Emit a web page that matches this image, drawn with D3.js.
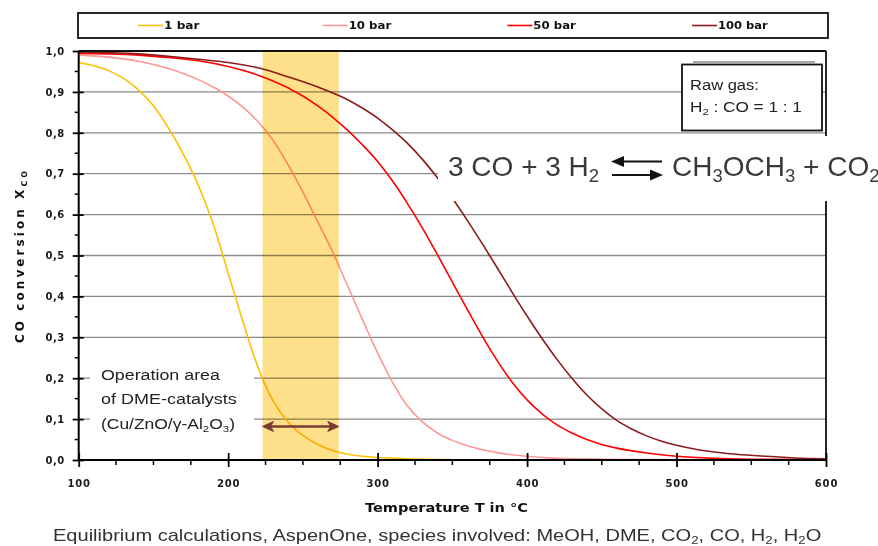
<!DOCTYPE html>
<html><head><meta charset="utf-8">
<script src="https://cdn.jsdelivr.net/npm/d3@7"></script>
<style>body{margin:0;background:#fff}svg{display:block}</style>
</head><body>
<svg id="c" width="878" height="546"></svg>
<script>
// ---------- data ----------
const seriesNames  = ["1 bar", "10 bar", "50 bar", "100 bar"];
const seriesColors = ["#FFC000", "#FF9797", "#FF0000", "#8C1C1C"];

const temps1bar = [100,110,120,130,140,150,160,170,180,190,200,210,220,230,240,250,260,270,280,290,300,320,350];
const conv1bar  = [0.972,0.964,0.952,0.933,0.905,0.866,0.812,0.748,0.672,0.577,0.457,0.337,0.226,0.145,0.093,0.06,0.038,0.023,0.014,0.009,0.006,0.003,0.001];

const temps10bar = [100,120,140,160,170,180,190,200,210,220,230,240,250,260,270,280,290,300,310,320,330,340,350,360,380,400,420,450,500,600];
const conv10bar  = [0.99,0.985,0.975,0.957,0.945,0.93,0.912,0.89,0.862,0.827,0.782,0.722,0.655,0.582,0.508,0.425,0.342,0.262,0.19,0.132,0.093,0.066,0.048,0.035,0.018,0.009,0.004,0.002,0.001,0.0];

const temps50bar = [100,120,140,160,180,200,220,240,260,270,280,290,300,310,320,330,340,350,360,370,380,390,400,410,420,430,440,450,460,480,500,525,550,600];
const conv50bar  = [0.994,0.993,0.99,0.984,0.976,0.962,0.941,0.91,0.866,0.838,0.806,0.77,0.73,0.682,0.627,0.567,0.502,0.435,0.368,0.303,0.243,0.19,0.147,0.113,0.086,0.066,0.05,0.038,0.029,0.017,0.009,0.004,0.002,0.001];

const temps100bar = [100,120,140,160,180,200,220,240,260,280,290,300,310,320,330,340,350,360,370,380,390,400,410,420,430,440,450,460,470,480,490,500,520,540,560,580,600];
const conv100bar  = [0.998,0.996,0.993,0.987,0.98,0.972,0.959,0.937,0.912,0.881,0.86,0.836,0.807,0.774,0.735,0.69,0.64,0.586,0.529,0.47,0.41,0.352,0.297,0.246,0.2,0.159,0.125,0.097,0.076,0.059,0.046,0.036,0.022,0.014,0.009,0.005,0.003];

const xTicks = [100,200,300,400,500,600];
const xMinorTicks = d3.range(125, 600, 25).filter(d => d % 100 !== 0);
const yTicks = [0,0.1,0.2,0.3,0.4,0.5,0.6,0.7,0.8,0.9,1.0];
const yMinorTicks = [0.05,0.15,0.25,0.35,0.45,0.55,0.65,0.75,0.85,0.95];
const yGrid = [0.1,0.2,0.3,0.4,0.5,0.6,0.7,0.8,0.9];
const operationRange = [223, 274];
const arrowLevel = 0.082;

const xTitle = "Temperature T in °C";
const yTitle = [["CO conversion X", false], ["CO", true]];
const caption = [["Equilibrium  calculations, AspenOne, species involved: MeOH, DME, CO", false], ["2", true], [", CO, H", false], ["2", true], [", H", false], ["2", true], ["O", false]];
const rawGas1 = [["Raw gas:", false]];
const rawGas2 = [["H", false], ["2", true], [" : CO = 1 : 1", false]];
const opText = [[["Operation area", false]], [["of DME-catalysts", false]], [["(Cu/ZnO/γ-Al", false], ["2", true], ["O", false], ["3", true], [")", false]]];
const eqLeft = [["3 CO + 3 H", false], ["2", true]];
const eqRight = [["CH", false], ["3", true], ["OCH", false], ["3", true], [" + CO", false], ["2", true]];

const series = [
  {name: seriesNames[0], color: seriesColors[0], t: temps1bar, v: conv1bar},
  {name: seriesNames[1], color: seriesColors[1], t: temps10bar, v: conv10bar},
  {name: seriesNames[2], color: seriesColors[2], t: temps50bar, v: conv50bar},
  {name: seriesNames[3], color: seriesColors[3], t: temps100bar, v: conv100bar}
];

// ---------- scales ----------
const svg = d3.select("#c");
const x = d3.scaleLinear().domain([100, 600]).range([78.7, 826]);
const y = d3.scaleLinear().domain([0, 1]).range([460, 51]);

svg.append("rect").attr("width", 878).attr("height", 546).attr("fill", "#fff");

function rich(sel, segs, size, subShift) {
  let shifted = false;
  segs.forEach(([txt, sub]) => {
    const ts = sel.append("tspan").text(txt);
    if (sub && !shifted) { ts.attr("dy", subShift).attr("font-size", size * 0.66); shifted = true; }
    else if (sub && shifted) { ts.attr("font-size", size * 0.66); }
    else if (!sub && shifted) { ts.attr("dy", -subShift); shifted = false; }
  });
  return sel;
}
// stretch a start-anchored text horizontally to a target width (reference glyphs are wide)
function stretch(sel, x0, target) {
  const w = sel.node().getComputedTextLength();
  const s = target / w;
  sel.attr("transform", `translate(${x0},0) scale(${s},1) translate(${-x0},0)`);
  return sel;
}

// ---------- legend ----------
svg.append("rect").attr("x", 78).attr("y", 13).attr("width", 750).attr("height", 25)
  .attr("fill", "#fff").attr("stroke", "#111").attr("stroke-width", 1.8);
const legX = d3.scaleLinear().domain([0, 3]).range([138, 692]);
series.forEach((s, i) => {
  const g = svg.append("g");
  g.append("line").attr("x1", legX(i)).attr("x2", legX(i) + 25).attr("y1", 25.5).attr("y2", 25.5)
    .attr("stroke", s.color).attr("stroke-width", 1.6);
  const t = g.append("text").attr("x", legX(i) + 26).attr("y", 29.5).text(s.name)
    .attr("font-family", "DejaVu Sans").attr("font-weight", "bold").attr("font-size", 10.5)
    .attr("fill", "#111");
  stretch(t, legX(i) + 26, s.name.length * 7.1);
});

// ---------- grid ----------
svg.append("g").selectAll("line").data(yGrid).join("line")
  .attr("x1", x(100)).attr("x2", x(600)).attr("y1", d => y(d)).attr("y2", d => y(d))
  .attr("stroke", "#8a8a8a").attr("stroke-width", 1.3);

// ---------- curves ----------
const line = d3.line().x(d => x(d[0])).y(d => y(d[1])).curve(d3.curveMonotoneX);
series.forEach(s => {
  svg.append("path").datum(s.t.map((t, i) => [t, s.v[i]]))
    .attr("d", line).attr("fill", "none").attr("stroke", s.color).attr("stroke-width", 1.6);
});

// ---------- operation band ----------
svg.append("rect").attr("x", x(operationRange[0])).attr("y", y(1))
  .attr("width", x(operationRange[1]) - x(operationRange[0])).attr("height", y(0) - y(1))
  .attr("fill", "#FFE08A").style("mix-blend-mode", "multiply");

// ---------- frame & axes ----------
svg.append("line").attr("x1", x(100)).attr("x2", x(600)).attr("y1", y(1)).attr("y2", y(1)).attr("stroke", "#111").attr("stroke-width", 1.8);
svg.append("line").attr("x1", x(600)).attr("x2", x(600)).attr("y1", y(1)).attr("y2", y(0)).attr("stroke", "#111").attr("stroke-width", 1.8);
svg.append("line").attr("x1", x(100)).attr("x2", x(100)).attr("y1", y(1)).attr("y2", y(0)).attr("stroke", "#000").attr("stroke-width", 2);
svg.append("line").attr("x1", x(100)).attr("x2", x(600)).attr("y1", y(0)).attr("y2", y(0)).attr("stroke", "#000").attr("stroke-width", 2);

const yAxis = svg.append("g").attr("transform", `translate(${x(100)},0)`)
  .call(d3.axisLeft(y).tickValues(yTicks).tickSize(6).tickPadding(8).tickFormat(d => d3.format(".1f")(d).replace(".", ",")));
yAxis.select(".domain").remove();
yAxis.selectAll(".tick line").attr("x2", -6).attr("x1", 5).attr("stroke", "#000").attr("stroke-width", 1.8);
yAxis.selectAll("text").attr("font-family", "DejaVu Sans").attr("font-weight", "bold").attr("font-size", 10).attr("letter-spacing", 0.5).attr("fill", "#1a1a1a");
svg.append("g").selectAll("line").data(yMinorTicks).join("line")
  .attr("x1", x(100) - 4).attr("x2", x(100)).attr("y1", d => y(d)).attr("y2", d => y(d))
  .attr("stroke", "#000").attr("stroke-width", 1.5);

const xAxis = svg.append("g").attr("transform", `translate(0,${y(0)})`)
  .call(d3.axisBottom(x).tickValues(xTicks).tickSize(7).tickPadding(13).tickFormat(d3.format("d")));
xAxis.select(".domain").remove();
xAxis.selectAll(".tick line").attr("y1", -7).attr("y2", 7).attr("stroke", "#000").attr("stroke-width", 1.8);
xAxis.selectAll("text").attr("font-family", "DejaVu Sans").attr("font-weight", "bold").attr("font-size", 10).attr("letter-spacing", 0.8).attr("fill", "#1a1a1a");
svg.append("g").selectAll("line").data(xMinorTicks).join("line")
  .attr("x1", d => x(d)).attr("x2", d => x(d)).attr("y1", y(0)).attr("y2", y(0) + 5)
  .attr("stroke", "#000").attr("stroke-width", 1.5);

// axis titles
stretch(svg.append("text").attr("x", 365).attr("y", 512).text(xTitle)
  .attr("font-family", "DejaVu Sans").attr("font-weight", "bold").attr("font-size", 12).attr("fill", "#111"), 365, 163);
rich(svg.append("text").attr("transform", "translate(24,257) rotate(-90)").attr("text-anchor", "middle")
  .attr("font-family", "DejaVu Sans").attr("font-weight", "bold").attr("font-size", 12).attr("fill", "#111")
  .attr("textLength", 172).attr("lengthAdjust", "spacing"), yTitle, 12, 3);

// ---------- equation ----------
svg.append("rect").attr("x", 438).attr("y", 136).attr("width", 440).attr("height", 65).attr("fill", "#fff");
rich(svg.append("text").attr("x", 448).attr("y", 176).attr("font-family", "Liberation Sans, Arial")
  .attr("font-size", 28).attr("fill", "#3a3a3a"), eqLeft, 28, 6);
rich(svg.append("text").attr("x", 672).attr("y", 176).attr("font-family", "Liberation Sans, Arial")
  .attr("font-size", 28).attr("fill", "#3a3a3a"), eqRight, 28, 6);
const eq = svg.append("g").attr("fill", "#111").attr("stroke", "#111");
eq.append("line").attr("x1", 622).attr("x2", 662).attr("y1", 161.5).attr("y2", 161.5).attr("stroke-width", 2);
eq.append("path").attr("d", "M611,161.5 L624,156 L624,167 Z").attr("stroke", "none");
eq.append("line").attr("x1", 612).attr("x2", 652).attr("y1", 175).attr("y2", 175).attr("stroke-width", 2);
eq.append("path").attr("d", "M663,175 L650,169.5 L650,180.5 Z").attr("stroke", "none");

// ---------- raw gas box ----------
svg.append("line").attr("x1", 693).attr("x2", 815).attr("y1", 62).attr("y2", 62).attr("stroke", "#555").attr("stroke-width", 1.2);
svg.append("rect").attr("x", 682).attr("y", 64.5).attr("width", 140).attr("height", 66)
  .attr("fill", "#fff").attr("stroke", "#111").attr("stroke-width", 1.8);
stretch(rich(svg.append("text").attr("x", 690).attr("y", 90).attr("font-family", "Liberation Sans, Arial")
  .attr("font-size", 15).attr("fill", "#222"), rawGas1, 15, 3), 690, 69);
stretch(rich(svg.append("text").attr("x", 690).attr("y", 112).attr("font-family", "Liberation Sans, Arial")
  .attr("font-size", 15).attr("fill", "#222"), rawGas2, 15, 3), 690, 112);

// ---------- operation area annotation ----------
svg.append("rect").attr("x", 90).attr("y", 358).attr("width", 164).attr("height", 84).attr("fill", "#fff");
const opLens = [119, 136, 134];
opText.forEach((segs, i) => {
  stretch(rich(svg.append("text").attr("x", 101).attr("y", 380 + i * 24.5).attr("font-family", "Liberation Sans, Arial")
    .attr("font-size", 15).attr("fill", "#222"), segs, 15, 3), 101, opLens[i]);
});
const ax1 = x(operationRange[0]), ax2 = x(operationRange[1]), ay = y(arrowLevel);
const arr = svg.append("g").attr("fill", "#7B3B35").attr("stroke", "#7B3B35");
arr.append("line").attr("x1", ax1 + 6).attr("x2", ax2 - 6).attr("y1", ay).attr("y2", ay).attr("stroke-width", 2.5);
arr.append("path").attr("d", `M${ax1},${ay} L${ax1 + 11},${ay - 5} L${ax1 + 8},${ay} L${ax1 + 11},${ay + 5} Z`).attr("stroke-width", 1);
arr.append("path").attr("d", `M${ax2},${ay} L${ax2 - 11},${ay - 5} L${ax2 - 8},${ay} L${ax2 - 11},${ay + 5} Z`).attr("stroke-width", 1);

// ---------- caption ----------
stretch(rich(svg.append("text").attr("x", 53).attr("y", 541).attr("font-family", "Liberation Sans, Arial")
  .attr("font-size", 16).attr("fill", "#333"), caption, 16, 3), 53, 769);
</script>
</body></html>
